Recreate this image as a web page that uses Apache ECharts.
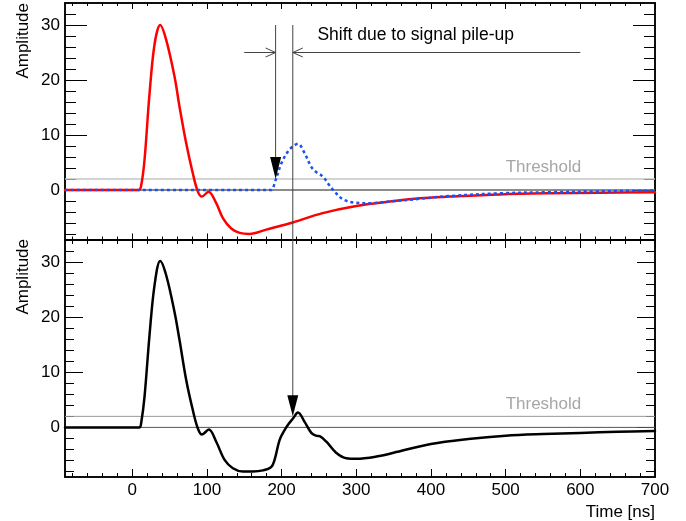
<!DOCTYPE html>
<html><head><meta charset="utf-8">
<script src="https://cdn.jsdelivr.net/npm/echarts@6/dist/echarts.min.js"></script>
<style>html,body{margin:0;padding:0;background:#fff}#c{width:686px;height:521px}</style>
</head><body><div id="c"></div>
<script>
// ---- axis ranges and ticks ----
const X_MIN = -90, X_MAX = 700;
const Y_MIN = -9, Y_MAX = 34;
const X_MAJOR = [0, 100, 200, 300, 400, 500, 600, 700];
const X_MINOR = [-80, -60, -40, -20, 20, 40, 60, 80, 120, 140, 160, 180, 220, 240, 260, 280,
  320, 340, 360, 380, 420, 440, 460, 480, 520, 540, 560, 580, 620, 640, 660, 680];
const Y_MAJOR = [0, 10, 20, 30];
const Y_MINOR = [-8, -6, -4, -2, 2, 4, 6, 8, 12, 14, 16, 18, 22, 24, 26, 28, 32];
const THRESHOLD = 2;

// ---- top panel: first signal (red) ----
const RED_T = [-90, 0, 9, 12, 16.5, 23, 30, 37.5, 45.5, 56.7, 63.4, 72.3, 81.2, 87.9, 93.3, 102.2,
  112.5, 121.4, 132.6, 143.8, 157, 179.5, 215, 255, 300, 345, 385, 425, 492, 559, 626, 700];
const RED_V = [0, 0, 0, 0.8, 5.5, 17.2, 26.6, 30, 27.3, 20.6, 15.1, 8.5, 3.0, -0.3, -1.2, -0.3,
  -2.4, -5.1, -7.0, -7.8, -8.0, -7.2, -5.9, -4.2, -2.9, -2.1, -1.5, -1.2, -0.8, -0.6, -0.5, -0.4];

// ---- top panel: pile-up signal (blue dotted) ----
const BLUE_T = [-90, 180, 186, 192, 199.6, 208.5, 215, 221.9, 230.8, 239.8, 246, 253, 258, 262.1,
  271, 282.2, 297.8, 318, 345, 385, 425, 492, 559, 626, 700];
const BLUE_V = [0, 0, 0, 1.8, 4.8, 7.0, 7.9, 8.4, 6.7, 4.2, 3.3, 2.7, 2.0, 1.2,
  -0.3, -1.7, -2.3, -2.4, -2.1, -1.6, -1.1, -0.6, -0.4, -0.25, -0.1];

// ---- bottom panel: summed signal (black) ----
const SUM_T = [-90, 0, 9.8, 12, 16.5, 23.2, 29.9, 37.5, 45.5, 56.7, 63.4, 72.3, 81.2, 87.9, 93.3,
  102.6, 112.5, 123.7, 134.8, 148.2, 161.6, 175, 186, 190.6, 197.3, 204, 209.8, 215.2, 221.9,
  230.8, 239.8, 246, 251, 260, 273, 286.7, 300, 331, 350, 400, 450, 500, 550, 600, 650, 700];
const SUM_V = [0, 0, 0, 0.8, 5.6, 16.8, 25.8, 30.2, 27.6, 20.9, 15.8, 8.6, 3.1, -0.2, -1.3,
  -0.4, -2.6, -5.9, -7.4, -8.0, -8.0, -7.8, -7.2, -5.9, -2.3, -0.5, 0.7, 1.6, 2.7,
  1.0, -1.0, -1.5, -1.6, -2.6, -4.6, -5.6, -5.7, -5.2, -4.6, -3.0, -2.1, -1.5, -1.2, -1.0, -0.8, -0.65];

// ---- annotations (data coordinates) ----
const T_CROSS_SINGLE = 192;   // threshold crossing of pile-up signal alone
const T_CROSS_SUM = 215;      // threshold crossing of summed signal
const V_LINE_TOP = 30;
const V_HARROW = 25;
const T_HARROW_LEFT = 150, T_HARROW_RIGHT = 600;
const SHIFT_LABEL = 'Shift due to signal pile-up';
const SHIFT_POS = [248, 28.2];
const THR_LABEL_POS = [500, 4.2];

const FONT = '"Liberation Sans", Arial, Helvetica, sans-serif';
const zip = (t, v) => t.map((x, i) => [x, v[i]]);

function xAx(grid, pos, vals, len, labels) {
  return {
    type: 'value', gridIndex: grid, position: pos, min: X_MIN, max: X_MAX,
    axisLine: {show: true, onZero: false, lineStyle: {color: '#000', width: 1.5}},
    axisTick: {show: true, inside: true, length: len, customValues: vals, lineStyle: {color: '#000', width: 1}},
    axisLabel: {show: !!labels, customValues: vals, margin: 5, fontSize: 17, color: '#000', fontFamily: FONT},
    splitLine: {show: false}, minorTick: {show: false}, minorSplitLine: {show: false}
  };
}
function yAx(grid, pos, vals, len, labels) {
  return {
    type: 'value', gridIndex: grid, position: pos, min: Y_MIN, max: Y_MAX,
    axisLine: {show: true, onZero: false, lineStyle: {color: '#000', width: 1.5}},
    axisTick: {show: true, inside: true, length: len, customValues: vals, lineStyle: {color: '#000', width: 1}},
    axisLabel: {show: !!labels, customValues: vals, margin: 5, fontSize: 17, color: '#000', fontFamily: FONT},
    splitLine: {show: false}, minorTick: {show: false}, minorSplitLine: {show: false}
  };
}

const chart = echarts.init(document.getElementById('c'), null, {renderer: 'canvas'});
const lineBase = {type: 'line', showSymbol: false, symbol: 'none', silent: true, animation: false};

chart.setOption({
  animation: false,
  backgroundColor: '#fff',
  grid: [
    {left: 65, top: 3, width: 590, height: 236.5, containLabel: false, outerBoundsMode: 'none'},
    {left: 65, top: 240, width: 590, height: 237, containLabel: false, outerBoundsMode: 'none'}
  ],
  xAxis: [
    xAx(0, 'bottom', X_MAJOR, 6, false), xAx(0, 'bottom', X_MINOR, 3, false),
    xAx(0, 'top', X_MAJOR, 6, false), xAx(0, 'top', X_MINOR, 3, false),
    xAx(1, 'bottom', X_MAJOR, 8, true), xAx(1, 'bottom', X_MINOR, 4, false),
    xAx(1, 'top', X_MAJOR, 8, false), xAx(1, 'top', X_MINOR, 4, false)
  ],
  yAxis: [
    yAx(0, 'left', Y_MAJOR, 22, true), yAx(0, 'left', Y_MINOR, 11, false),
    yAx(0, 'right', Y_MAJOR, 22, false), yAx(0, 'right', Y_MINOR, 11, false),
    yAx(1, 'left', Y_MAJOR, 18, true), yAx(1, 'left', Y_MINOR, 9, false),
    yAx(1, 'right', Y_MAJOR, 18, false), yAx(1, 'right', Y_MINOR, 9, false)
  ],
  series: [
    Object.assign({}, lineBase, {xAxisIndex: 0, yAxisIndex: 0, z: 1,
      data: [[X_MIN, 0], [X_MAX, 0]], lineStyle: {color: '#666', width: 1.5}}),
    Object.assign({}, lineBase, {xAxisIndex: 0, yAxisIndex: 0, z: 1,
      data: [[X_MIN, THRESHOLD], [X_MAX, THRESHOLD]], lineStyle: {color: '#c4c4c4', width: 1.5}}),
    Object.assign({}, lineBase, {xAxisIndex: 0, yAxisIndex: 0, z: 3, smooth: 0.35,
      data: zip(RED_T, RED_V), lineStyle: {color: '#ff0000', width: 2.5, cap: 'round', join: 'round'}}),
    Object.assign({}, lineBase, {xAxisIndex: 0, yAxisIndex: 0, z: 4, smooth: 0.35,
      data: zip(BLUE_T, BLUE_V), lineStyle: {color: '#1a50f5', width: 2.5, type: [3, 3]}}),
    Object.assign({}, lineBase, {xAxisIndex: 4, yAxisIndex: 4, z: 1,
      data: [[X_MIN, 0], [X_MAX, 0]], lineStyle: {color: '#555', width: 1}}),
    Object.assign({}, lineBase, {xAxisIndex: 4, yAxisIndex: 4, z: 1,
      data: [[X_MIN, THRESHOLD], [X_MAX, THRESHOLD]], lineStyle: {color: '#999', width: 1}}),
    Object.assign({}, lineBase, {xAxisIndex: 4, yAxisIndex: 4, z: 3, smooth: 0.35,
      data: zip(SUM_T, SUM_V), lineStyle: {color: '#000', width: 2.5, cap: 'round', join: 'round'}})
  ]
});

function px(grid, t, v) { return chart.convertToPixel({gridIndex: grid}, [t, v]); }
const gCol = '#444';
const a1Top = px(0, T_CROSS_SINGLE, V_LINE_TOP), a1Tip = px(0, T_CROSS_SINGLE, THRESHOLD);
const a2Top = px(0, T_CROSS_SUM, V_LINE_TOP), a2Tip = px(1, T_CROSS_SUM, THRESHOLD);
const hL = px(0, T_HARROW_LEFT, V_HARROW), hR = px(0, T_HARROW_RIGHT, V_HARROW);
const sPos = px(0, SHIFT_POS[0], SHIFT_POS[1]);
const th0 = px(0, THR_LABEL_POS[0], THR_LABEL_POS[1]);
const th1 = px(1, THR_LABEL_POS[0], THR_LABEL_POS[1]);
const xEnd = px(1, X_MAX, 0)[0];
const AH = 22, AW = 5.5;

chart.setOption({
  graphic: [
    {type: 'line', z: 10, shape: {x1: a1Top[0], y1: a1Top[1], x2: a1Tip[0], y2: a1Tip[1] - AH + 2}, style: {stroke: gCol, lineWidth: 1}},
    {type: 'polygon', z: 10, shape: {points: [[a1Tip[0] - AW, a1Tip[1] - AH], [a1Tip[0] + AW, a1Tip[1] - AH], [a1Tip[0], a1Tip[1]]]}, style: {fill: '#000'}},
    {type: 'line', z: 10, shape: {x1: a2Top[0], y1: a2Top[1], x2: a2Tip[0], y2: a2Tip[1] - AH + 2}, style: {stroke: gCol, lineWidth: 1}},
    {type: 'polygon', z: 10, shape: {points: [[a2Tip[0] - AW, a2Tip[1] - AH + 1], [a2Tip[0] + AW, a2Tip[1] - AH + 1], [a2Tip[0], a2Tip[1]]]}, style: {fill: '#000'}},
    {type: 'line', z: 10, shape: {x1: hL[0], y1: hL[1], x2: a1Top[0], y2: hL[1]}, style: {stroke: gCol, lineWidth: 1}},
    {type: 'polyline', z: 10, shape: {points: [[a1Top[0] - 10, hL[1] - 4.5], [a1Top[0], hL[1]], [a1Top[0] - 10, hL[1] + 4.5]]}, style: {stroke: gCol, lineWidth: 1, fill: null}},
    {type: 'line', z: 10, shape: {x1: hR[0], y1: hR[1], x2: a2Top[0], y2: hR[1]}, style: {stroke: gCol, lineWidth: 1}},
    {type: 'polyline', z: 10, shape: {points: [[a2Top[0] + 10, hR[1] - 4.5], [a2Top[0], hR[1]], [a2Top[0] + 10, hR[1] + 4.5]]}, style: {stroke: gCol, lineWidth: 1, fill: null}},
    {type: 'text', z: 10, x: sPos[0], y: sPos[1], style: {text: SHIFT_LABEL, font: '17.5px ' + FONT, fill: '#000', align: 'left', verticalAlign: 'middle'}},
    {type: 'text', z: 10, x: th0[0], y: th0[1], style: {text: 'Threshold', font: '17px ' + FONT, fill: '#a6a6a6', align: 'left', verticalAlign: 'middle'}},
    {type: 'text', z: 10, x: th1[0], y: th1[1], style: {text: 'Threshold', font: '17px ' + FONT, fill: '#a6a6a6', align: 'left', verticalAlign: 'middle'}},
    {type: 'text', z: 10, x: xEnd, y: 512, style: {text: 'Time [ns]', font: '17px ' + FONT, fill: '#000', align: 'right', verticalAlign: 'middle'}},
    {type: 'text', z: 10, x: 23, y: 3, rotation: Math.PI / 2, style: {text: 'Amplitude', font: '17px ' + FONT, fill: '#000', align: 'right', verticalAlign: 'middle'}},
    {type: 'text', z: 10, x: 23, y: 239, rotation: Math.PI / 2, style: {text: 'Amplitude', font: '17px ' + FONT, fill: '#000', align: 'right', verticalAlign: 'middle'}}
  ]
});
</script>
</body></html>
